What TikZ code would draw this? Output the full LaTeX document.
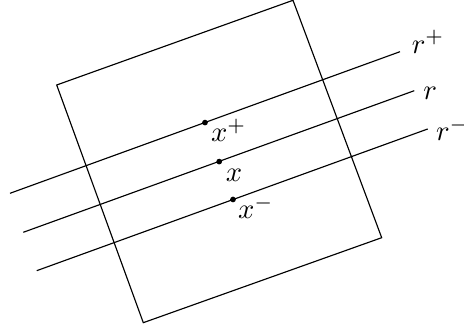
\documentclass[tikz,border=0pt]{standalone}
\usepackage{tikz}
\usetikzlibrary{calc}
\begin{document}
\begin{tikzpicture}[x=0.35pt, y=-0.35pt,
  dot/.style={circle, fill, inner sep=0pt, minimum size=2pt},
  lbl/.style={anchor=base west, inner sep=0pt}]
\useasboundingbox (0,0) rectangle (464,329);

% --- quadrato ruotato ---
\coordinate (qa) at (56.7,85);
\coordinate (qb) at (293,0.3);
\coordinate (qc) at (381.7,237.7);
\coordinate (qd) at (143.3,322.7);
\draw (qa) -- (qb) -- (qc) -- (qd) -- cycle;

% --- rette parallele ---
\coordinate (rp0) at (10,193.3);   \coordinate (rp1) at (400,51.7);
\coordinate (r0)  at (23.3,232.3); \coordinate (r1)  at (414.3,90.7);
\coordinate (rm0) at (36.7,270.7); \coordinate (rm1) at (427.7,129);
\draw (rp0) -- (rp1);
\draw (r0) -- (r1);
\draw (rm0) -- (rm1);
\node[lbl] (lrp) at (411.2,53.3) {$r^+$};
\node[lbl] (lr)  at (422.8,99.7) {$r$};
\node[lbl] (lrm) at (435.5,140.7) {$r^-$};

% --- punti sulle rette ---
\node[dot] (xp) at (205,122.6) {};
\node[dot] (xc) at (219.2,161.6) {};
\node[dot] (xm) at (233,199.5) {};
\node[lbl] (lxp) at ($(xp)+(5.5,19)$) {$x^+$};
\node[lbl] (lxc) at ($(xc)+(6,19.5)$) {$x$};
\node[lbl] (lxm) at ($(xm)+(4.5,19)$) {$x^-$};
\end{tikzpicture}
\end{document}
